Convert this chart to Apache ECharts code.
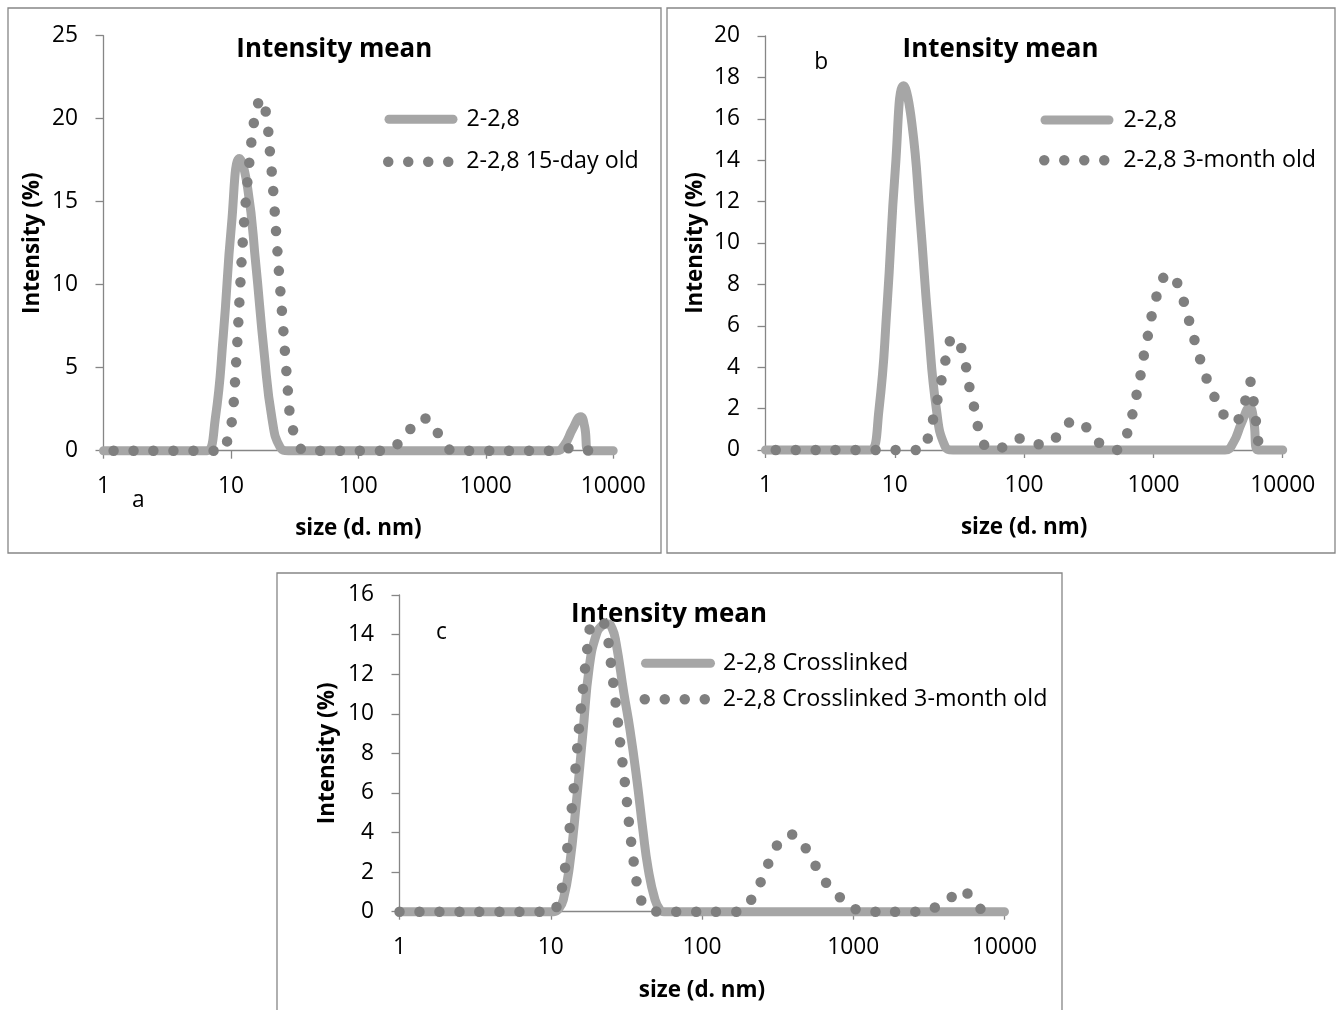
<!DOCTYPE html>
<html><head><meta charset="utf-8">
<script src="https://cdn.jsdelivr.net/npm/echarts@6/dist/echarts.min.js"></script>
<style>html,body{margin:0;padding:0;background:#fff}#c{width:1336px;height:1010px}</style>
</head><body><div id="c"></div>
<script>
// ---- axis ticks ----
const xTicks = [1, 10, 100, 1000, 10000];
const yTicksA = [0, 5, 10, 15, 20, 25];
const yTicksB = [0, 2, 4, 6, 8, 10, 12, 14, 16, 18, 20];
const yTicksC = [0, 2, 4, 6, 8, 10, 12, 14, 16];

// ---- series names ----
const nameFresh = '2-2,8';
const name15d = '2-2,8 15-day old';
const name3m = '2-2,8 3-month old';
const nameCx = '2-2,8 Crosslinked';
const nameCx3m = '2-2,8 Crosslinked 3-month old';

// ---- data (size in d.nm, intensity in %) ----
const freshSize = [1, 5.615, 6.503, 7.531, 8.721, 10.1, 11.7, 13.54, 15.69, 18.17, 21.04, 24.36, 28.21, 3580, 4145, 4801, 5560, 5950, 6439, 10000];
const freshInt  = [0, 0, 0, 1.9, 7.0, 13.6, 17.6, 15.8, 11.2, 6.0, 1.9, 0.2, 0, 0, 0.35, 1.3, 2.05, 1.5, 0, 0];

const d15Size = [1.2, 8.4, 9.4, 10.17, 11.0, 11.67, 12.41, 13.1, 14.0, 15.23, 16.3, 17.5, 18.92, 20.35, 21.6, 22.7, 23.9, 25.3, 26.7, 28.2, 29.4, 31.6, 34.5, 37.8, 165, 217, 272, 310, 347, 436, 500, 553, 3900, 4800, 5600, 6440];
const d15Int  = [0, 0, 0.64, 1.8, 5.4, 9.05, 12.7, 15.1, 17.5, 19.9, 20.9, 21.2, 20.2, 17.8, 15.4, 13.0, 10.6, 8.1, 5.7, 3.3, 1.9, 0.95, 0.25, 0, 0, 0.64, 1.55, 1.95, 1.91, 0.88, 0.2, 0, 0, 0.2, 0.1, 0];

const m3Size = [1.2, 15.8, 18.2, 19.9, 21.5, 23.1, 24.8, 27.2, 29.0, 32.5, 35.5, 37.7, 41.0, 43.8, 49.2, 56, 66, 78, 91.4, 105, 126, 145, 166, 190, 211, 250, 289, 330, 366, 430, 499, 560, 614, 679, 733, 788, 835, 897, 958, 1042, 1166, 1320, 1487, 1693, 1862, 2050, 2265, 2537, 2905, 3412, 3950, 4436, 5082, 5620, 5970, 6220, 6480, 6600];
const m3Int  = [0, 0, 0.64, 1.56, 2.5, 3.46, 4.41, 5.38, 5.45, 4.96, 4.03, 3.06, 2.09, 1.16, 0.24, 0.03, 0.1, 0.35, 0.56, 0.42, 0.29, 0.25, 0.45, 0.85, 1.21, 1.42, 1.21, 0.8, 0.45, 0.12, 0, 0.12, 0.64, 1.58, 2.53, 3.48, 4.43, 5.38, 6.33, 7.28, 8.21, 8.5, 8.21, 7.29, 6.38, 5.44, 4.51, 3.57, 2.69, 1.82, 1.35, 1.42, 2.29, 3.3, 2.29, 1.34, 0.37, 0];

const cxSize = [1, 10.5, 11.3, 12.1, 13.3, 14.8, 16.3, 18.0, 20.0, 21.8, 23.7, 25.5, 27.0, 30.5, 33.4, 37.2, 40.7, 44.0, 48.9, 52.7, 56, 10000];
const cxInt  = [0, 0, 0.15, 0.6, 2.3, 5.6, 9.0, 12.4, 14.0, 14.45, 14.55, 14.3, 13.6, 11.0, 9.2, 6.6, 4.1, 2.2, 0.6, 0.1, 0, 0];

const cx3Size = [1, 10.2, 11.03, 11.9, 12.9, 13.8, 14.6, 15.4, 16.4, 17.5, 18.3, 20.5, 23.1, 24.4, 25.3, 27.2, 29.1, 31.3, 33.3, 36.0, 37.9, 40.0, 42.6, 48, 56, 165, 190, 226, 257, 290, 340, 385, 438, 520, 605, 724, 914, 1050, 1202, 2400, 2994, 3981, 5250, 6100, 7240];
const cx3Int  = [0, 0, 0.34, 1.26, 3.28, 5.3, 7.3, 9.35, 11.4, 13.4, 14.4, 14.7, 14.4, 13.2, 12.2, 10.2, 8.2, 6.15, 4.13, 2.1, 1.1, 0.5, 0.17, 0.02, 0, 0, 0.2, 0.98, 1.9, 2.83, 3.71, 3.9, 3.66, 2.8, 1.92, 1.11, 0.44, 0.1, 0, 0, 0.1, 0.42, 1.1, 0.58, 0];

// ---- helpers ----
const FONT = 'Open Sans';
function fit(text, weight, target) {
  const ctx = document.createElement('canvas').getContext('2d');
  ctx.font = weight + ' 100px "' + FONT + '"';
  return 100 * target / ctx.measureText(text).width;
}
const tickSize = fit('10000', 'normal', 65);
const legendSize = fit(nameCx3m, 'normal', 325);
const nameSize = fit('size (d. nm)', 'bold', 126.5);
const titleSize = fit('Intensity mean', 'bold', 196);

const pairs = (xs, ys) => xs.map((x, i) => [x, ys[i]]);
const AXIS = '#868686', SOLID = '#A6A6A6', DOT = '#7F7F7F';
const SOLID_W = 9, DOT_W = 10.5;

const grids = [
  {left: 103.5, top: 35.7, width: 509.7, height: 415},
  {left: 765.5, top: 36, width: 517.2, height: 414},
  {left: 399.5, top: 595, width: 605, height: 316.7}
];
const xNameGap = [67, 67, 67.5];
const yNameGap = [60, 59, 61];
const yTicks = [yTicksA, yTicksB, yTicksC];

function xAxisCfg(gi) {
  return {
    type: 'log', logBase: 10, gridIndex: gi, min: xTicks[0], max: xTicks[xTicks.length - 1], splitNumber: 4,
    axisLine: {show: true, onZero: false, lineStyle: {color: AXIS, width: 1.3}},
    axisTick: {show: true, inside: false, length: 8, lineStyle: {color: AXIS, width: 1.3}},
    minorTick: {show: false}, splitLine: {show: false}, minorSplitLine: {show: false},
    axisLabel: {margin: 24, color: '#000', fontFamily: FONT, fontSize: tickSize, showMinLabel: true, showMaxLabel: true,
      formatter: v => String(Math.round(v))},
    name: 'size (d. nm)', nameLocation: 'middle', nameGap: xNameGap[gi],
    nameTextStyle: {fontFamily: FONT, fontWeight: 'bold', fontSize: nameSize, color: '#000'}
  };
}
function yAxisCfg(gi) {
  const t = yTicks[gi];
  return {
    type: 'value', gridIndex: gi, min: t[0], max: t[t.length - 1], interval: t[1] - t[0],
    axisLine: {show: true, onZero: false, lineStyle: {color: AXIS, width: 1.3}},
    axisTick: {show: true, inside: false, length: 8, lineStyle: {color: AXIS, width: 1.3}},
    splitLine: {show: false},
    axisLabel: {margin: 25.5, color: '#000', fontFamily: FONT, fontSize: tickSize},
    name: 'Intensity (%)', nameLocation: 'middle', nameGap: yNameGap[gi],
    nameTextStyle: {fontFamily: FONT, fontWeight: 'bold', fontSize: nameSize, color: '#000'}
  };
}
function solid(name, gi, xs, ys) {
  return {type: 'line', name, xAxisIndex: gi, yAxisIndex: gi, data: pairs(xs, ys), smooth: 0.5,
    symbol: 'none', clip: false, silent: true, z: 2,
    lineStyle: {color: SOLID, width: SOLID_W, cap: 'round', join: 'round'}, itemStyle: {color: SOLID}};
}
function dotted(name, gi, xs, ys) {
  return {type: 'line', name, xAxisIndex: gi, yAxisIndex: gi, data: pairs(xs, ys), smooth: 0.5,
    symbol: 'none', clip: false, silent: true, z: 3,
    lineStyle: {color: DOT, width: DOT_W, type: [0, 20], cap: 'round', join: 'round'}, itemStyle: {color: DOT}};
}
function leg(name, left, cy, w, pad, lw) {
  return {data: [name], left: left, top: cy - 12, orient: 'horizontal', padding: 0, itemGap: 0,
    itemWidth: w, itemHeight: 8, selectedMode: false,
    lineStyle: {width: lw, cap: 'round', type: 'inherit'}, itemStyle: {opacity: 0},
    textStyle: {fontFamily: FONT, fontSize: legendSize, color: '#000', lineHeight: 24, padding: [0, 0, 0, pad]}};
}
function txt(text, x, y, size, bold) {
  return {type: 'text', x: x, y: y, silent: true,
    style: {text: text, fill: '#000', fontFamily: FONT, fontSize: size, fontWeight: bold ? 'bold' : 'normal',
      align: 'center', verticalAlign: 'middle'}};
}
function box(x, y, w, h) {
  return {type: 'rect', silent: true, shape: {x: x, y: y, width: w, height: h},
    style: {fill: 'none', stroke: AXIS, lineWidth: 1.3}};
}

const option = {
  animation: false,
  backgroundColor: '#fff',
  grid: grids.map(g => Object.assign({containLabel: false, outerBoundsMode: 'none'}, g)),
  xAxis: [0, 1, 2].map(xAxisCfg),
  yAxis: [0, 1, 2].map(yAxisCfg),
  legend: [
    leg(nameFresh, 384.5, 119.3, 64, 8.5, SOLID_W),
    leg(name15d, 383, 161.7, 64, 9.0, DOT_W),
    leg(nameFresh, 1040.5, 120, 64, 9.5, SOLID_W),
    leg(name3m, 1039, 160.3, 64, 10.0, DOT_W),
    leg(nameCx, 641, 663.3, 65, 7.5, SOLID_W),
    leg(nameCx3m, 639.5, 699.3, 65, 8.0, DOT_W)
  ],
  graphic: [
    box(8, 8, 653, 545),
    box(667, 8, 668, 545),
    box(277, 573, 785, 445),
    txt('Intensity mean', 334.3, 49.3, titleSize, true),
    txt('Intensity mean', 1000.5, 49.3, titleSize, true),
    txt('Intensity mean', 669, 614.5, titleSize, true),
    txt('a', 138.4, 500.5, tickSize, false),
    txt('b', 821.2, 63, tickSize, false),
    txt('c', 441.4, 633, tickSize, false)
  ],
  series: [
    solid(nameFresh, 0, freshSize, freshInt),
    dotted(name15d, 0, d15Size, d15Int),
    solid(nameFresh, 1, freshSize, freshInt),
    dotted(name3m, 1, m3Size, m3Int),
    solid(nameCx, 2, cxSize, cxInt),
    dotted(nameCx3m, 2, cx3Size, cx3Int)
  ]
};
const chart = echarts.init(document.getElementById('c'), null, {renderer: 'canvas', width: 1336, height: 1010});
chart.setOption(option);
</script>
</body></html>
